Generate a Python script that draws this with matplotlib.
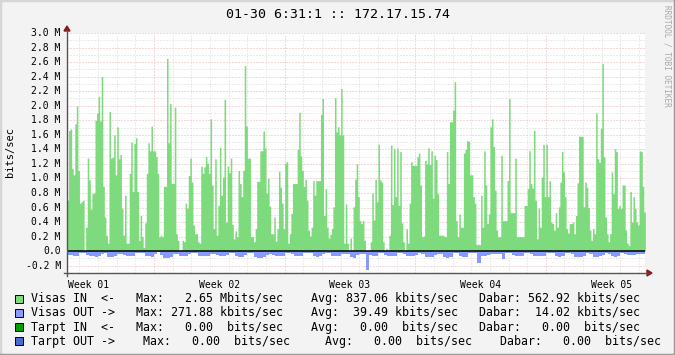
import numpy as np
import matplotlib
matplotlib.use("Agg")
import matplotlib.pyplot as plt
from matplotlib.patches import Rectangle, Polygon
from matplotlib.lines import Line2D

# traffic for 172.17.15.74, one sample every 2 hours, Mbits/sec
visas_in = [
    0.70, 1.66, 1.68, 1.14, 1.05, 1.75, 2.00, 1.11, 0.66, 0.68,
    0.70, 0.00, 0.33, 1.28, 0.98, 0.58, 0.79, 0.80, 1.80, 1.90,
    2.13, 1.79, 2.40, 0.89, 0.47, 0.22, 0.11, 1.92, 1.28, 1.29,
    1.60, 1.05, 1.71, 1.27, 1.33, 0.59, 0.22, 0.77, 0.11, 0.11,
    1.07, 1.50, 0.82, 1.48, 1.56, 0.82, 0.15, 0.49, 0.20, 0.05,
    0.39, 1.07, 1.49, 1.38, 1.72, 1.38, 1.38, 1.30, 1.07, 0.20,
    0.22, 0.20, 0.89, 0.89, 2.65, 1.49, 2.03, 0.93, 0.93, 1.98,
    0.24, 0.15, 0.01, 0.01, 0.15, 0.13, 0.66, 0.59, 1.04, 1.28,
    0.95, 0.36, 0.24, 0.24, 0.13, 0.11, 1.17, 1.07, 1.16, 1.30,
    1.21, 1.07, 1.82, 0.91, 0.31, 1.27, 0.22, 0.63, 1.43, 0.77,
    1.02, 2.09, 0.40, 1.17, 1.08, 1.28, 0.37, 0.17, 0.28, 0.20,
    1.11, 0.93, 0.75, 1.11, 2.55, 1.72, 1.28, 1.28, 0.20, 0.20,
    0.13, 0.31, 0.96, 0.96, 1.38, 1.38,
    1.65, 1.42, 0.80, 1.00, 0.62, 0.24, 0.24, 0.47, 0.14, 0.31,
    1.10, 0.88, 0.66, 0.31, 1.21, 1.23, 0.11, 0.24, 0.52, 0.93,
    0.93, 0.93, 1.40, 1.91, 1.31, 1.11, 0.89, 0.99, 0.70, 0.29,
    0.21, 0.33, 0.97, 0.77, 0.97, 0.97, 0.97, 1.88, 2.10, 0.49,
    0.86, 0.33, 0.18, 0.23, 0.31, 0.61, 2.11, 1.64, 1.71, 1.60,
    2.24, 1.60, 0.11, 0.65, 0.11, 0.00, 0.18, 0.01, 0.61, 0.99,
    1.20, 0.75, 0.42, 0.38, 0.42, 0.15, 0.00, 0.00, 0.00, 0.13,
    0.80, 0.43, 0.99, 0.68, 1.47, 0.98, 0.95, 0.13, 0.00, 0.04,
    0.00, 0.22, 1.46, 0.64, 1.41, 0.75, 1.42, 0.63, 1.37, 0.39,
    0.13, 0.00, 0.31, 0.11, 0.66, 1.23, 1.18, 1.18, 1.18, 1.30,
    1.35, 0.91, 0.20, 0.21, 1.25, 1.20, 1.42, 1.19, 1.38, 0.73,
    1.32, 1.26, 0.79, 0.22, 0.22, 0.22, 0.21, 0.20, 1.37, 0.93,
    1.78, 1.78, 1.94,
    2.33, 0.42, 0.20, 0.51, 0.33, 0.33, 1.35, 1.40, 1.52, 1.51,
    1.05, 1.05, 0.75, 0.66, 0.09, 0.09, 0.09, 0.77, 0.33, 1.38,
    0.91, 0.38, 0.51, 1.71, 1.82, 1.44, 0.84, 0.29, 0.20, 0.20,
    1.32, 0.42, 0.42, 0.42, 0.97, 2.10, 0.53, 0.53, 0.53, 1.28,
    0.20, 0.20, 0.20, 0.20, 0.20, 0.63, 0.63, 0.86, 1.38, 0.93,
    0.87, 1.66, 0.70, 0.17, 0.59, 0.33, 1.02, 1.47, 0.75, 1.47,
    0.75, 0.97, 0.40, 0.38, 0.29, 0.53, 0.33, 0.61, 0.95, 1.37,
    1.09, 0.75, 0.31, 0.25, 0.38, 0.38, 0.40, 0.24, 0.49, 0.94,
    1.58, 1.58, 1.58, 0.61, 0.95, 0.88, 0.60, 0.29, 0.15, 0.31,
    0.24, 1.90, 1.27, 1.22, 1.69, 2.58, 1.30, 0.47, 0.24, 0.13,
    0.24, 1.09, 0.79, 1.41, 1.37, 0.59, 0.63, 0.59, 0.91, 0.91,
    0.29, 0.11, 0.08, 0.82, 0.40, 0.75, 0.59, 0.40, 0.36, 1.38,
    1.37, 0.89, 0.54,
]

# outgoing, one sample every 4 hours, Mbits/sec (drawn below zero)
visas_out = [
    0.05, 0.05, 0.07, 0.07, 0.03, 0.03, 0.05, 0.06, 0.07, 0.08,
    0.07, 0.04, 0.03, 0.075, 0.08, 0.06, 0.04, 0.04, 0.05, 0.065,
    0.07, 0.06, 0.03, 0.02, 0.02, 0.06, 0.07, 0.075, 0.04, 0.015,
    0.05, 0.09, 0.10, 0.08, 0.045, 0.04, 0.06, 0.065, 0.06, 0.04,
    0.03, 0.03, 0.06, 0.07, 0.065, 0.06, 0.04, 0.04, 0.05, 0.065,
    0.07, 0.05, 0.02, 0.03, 0.07, 0.08, 0.075, 0.05, 0.03, 0.03,
    0.08, 0.09, 0.095, 0.08, 0.05, 0.04, 0.05, 0.065, 0.07, 0.06,
    0.03, 0.03, 0.04, 0.07, 0.07, 0.065, 0.03, 0.03, 0.03, 0.07,
    0.08, 0.07, 0.04, 0.03, 0.03, 0.06, 0.07, 0.07, 0.04, 0.04,
    0.04, 0.08, 0.09, 0.05, 0.04, 0.04, 0.26, 0.05, 0.065, 0.06,
    0.03, 0.03, 0.05, 0.065, 0.07, 0.06, 0.03, 0.02, 0.04, 0.065,
    0.07, 0.065, 0.05, 0.03, 0.04, 0.075, 0.08, 0.075, 0.05, 0.04,
    0.04, 0.08, 0.10, 0.08, 0.03, 0.03, 0.06, 0.075, 0.075, 0.03,
    0.03, 0.03, 0.165, 0.06, 0.06, 0.05, 0.035, 0.035, 0.04, 0.035,
    0.11, 0.03, 0.03, 0.05, 0.065, 0.07, 0.06, 0.03, 0.03, 0.04,
    0.06, 0.065, 0.07, 0.06, 0.03, 0.03, 0.03, 0.06, 0.075, 0.07,
    0.03, 0.03, 0.04, 0.08, 0.085, 0.08, 0.06, 0.03, 0.04, 0.075,
    0.08, 0.07, 0.05, 0.03, 0.04, 0.07, 0.075, 0.06, 0.03, 0.04,
    0.05, 0.055, 0.05, 0.035, 0.035, 0.035,
]

yticks = [-0.2, 0.0, 0.2, 0.4, 0.6, 0.8, 1.0, 1.2, 1.4, 1.6, 1.8,
          2.0, 2.2, 2.4, 2.6, 2.8, 3.0]
week_labels = ["Week 01", "Week 02", "Week 03", "Week 04", "Week 05"]

title = "01-30 6:31:1 :: 172.17.15.74"
legend_rows = [
    ("Visas IN  <-   Max:   2.65 Mbits/sec    Avg: 837.06 kbits/sec"
     "   Dabar: 562.92 kbits/sec", "#7ddb7d"),
    ("Visas OUT ->   Max: 271.88 kbits/sec    Avg:  39.49 kbits/sec"
     "   Dabar:  14.02 kbits/sec", "#8899ff"),
    ("Tarpt IN  <-   Max:   0.00  bits/sec    Avg:   0.00  bits/sec"
     "   Dabar:   0.00  bits/sec", "#00a000"),
    ("Tarpt OUT ->    Max:   0.00  bits/sec     Avg:   0.00  bits/sec"
     "    Dabar:   0.00  bits/sec", "#4a6ad0"),
]

W, H = 675, 355
MONO = "DejaVu Sans Mono"
GREEN = "#7ddb7d"
BLUE = "#8899ff"


def fx(px):
    return px / W


def fy(py):
    return 1 - py / H


fig = plt.figure(figsize=(W / 100, H / 100), dpi=100, facecolor="#f3f3f3")
ax = fig.add_axes([fx(67), fy(273), 578 / W, 240 / H])
ax.set_facecolor("white")
for s in ax.spines.values():
    s.set_visible(False)
ax.set_xticks([])
ax.set_yticks([])

day_px = 18.657
ax.set_xlim(0, 578 / day_px)
ax.set_ylim(-0.3, 3.0)

# grid (below the data)
dot = (0, (1, 2))
for v in np.arange(-3, 31) / 10:
    major = abs(round(v * 10)) % 2 == 0
    ax.axhline(v, color="#e8b4b4" if major else "#d8d8d8", lw=0.72,
               ls=dot, zorder=1)
for d in np.arange(0.665, 31, 1.0):
    major = abs(((d - 4.665) / 7) - round((d - 4.665) / 7)) < 1e-6
    ax.axvline(d, color="#e8b4b4" if major else "#d8d8d8", lw=0.72,
               ls=dot, zorder=1)

# data
t_in = np.arange(len(visas_in) + 1) * 2 / 24
ax.fill_between(t_in, 0, np.append(visas_in, visas_in[-1]), step="post",
                color=GREEN, lw=0, antialiased=False, zorder=2)
t_out = np.arange(len(visas_out) + 1) * 4 / 24
ax.fill_between(t_out, 0, -np.append(visas_out, visas_out[-1]), step="post",
                color=BLUE, lw=0, antialiased=False, zorder=2)
ax.axhline(0, color="black", lw=1.1, zorder=3)

# y labels
char_pt = 0.602 * 7
for v in yticks:
    lab = "0.0" if abs(v) < 1e-9 else f"{v:.1f} M"
    ax.annotate(lab, xy=(0, v), xycoords=("axes fraction", "data"),
                xytext=(-4.5 - 5 * char_pt - (len(lab) - 5) * char_pt, 0),
                textcoords="offset points", ha="left", va="center",
                family=MONO, fontsize=7, color="black")

# week labels
for i, lab in enumerate(week_labels):
    ax.annotate(lab, xy=(1.165 + 7 * i, 0), xycoords=("data", "axes fraction"),
                xytext=(0, -8.5), textcoords="offset points",
                ha="center", va="center", family=MONO, fontsize=7)

# axes lines and arrows
axis_col = "#555555"
arrow_col = "#8b1a1a"
fig.add_artist(Line2D([fx(67), fx(67)], [fy(276), fy(30)], color=axis_col,
                      lw=1, transform=fig.transFigure))
fig.add_artist(Line2D([fx(64), fx(648)], [fy(273), fy(273)], color=axis_col,
                      lw=1, transform=fig.transFigure))
fig.add_artist(Polygon([(fx(64), fy(31)), (fx(70), fy(31)), (fx(67), fy(26))],
                       closed=True, color=arrow_col, transform=fig.transFigure))
fig.add_artist(Polygon([(fx(647), fy(270)), (fx(647), fy(276)), (fx(652), fy(273))],
                       closed=True, color=arrow_col, transform=fig.transFigure))

# texts
fig.text(fx(338), fy(14), title, ha="center", va="center", family=MONO,
         fontsize=9.5, color="black")
fig.text(fx(10), fy(152), "bits/sec", rotation=90, ha="center", va="center",
         family=MONO, fontsize=7.5)
fig.text(fx(667), fy(5), "RRDTOOL / TOBI OETIKER", rotation=270, ha="center",
         va="top", family=MONO, fontsize=5.6, color="#a8a8a8")

# legend
row_y = [298.5, 312.8, 327.0, 341.3]
for (txt, col), y in zip(legend_rows, row_y):
    fig.add_artist(Rectangle((fx(15), fy(y + 4)), 8 / W, 8 / H, facecolor=col,
                             edgecolor="black", lw=0.7, transform=fig.transFigure))
    fig.text(fx(31), fy(y), txt, ha="left", va="center", family=MONO,
             fontsize=8.35, color="black")

# frame around the image
fig.add_artist(Line2D([0, 0, 1], [0, 1, 1], color="#d6d6d6", lw=2.5,
                      transform=fig.transFigure))
fig.add_artist(Line2D([0, 1, 1], [0, 0, 1], color="#9c9c9c", lw=2.5,
                      transform=fig.transFigure))

fig.savefig("out.png", dpi=100, facecolor=fig.get_facecolor())
